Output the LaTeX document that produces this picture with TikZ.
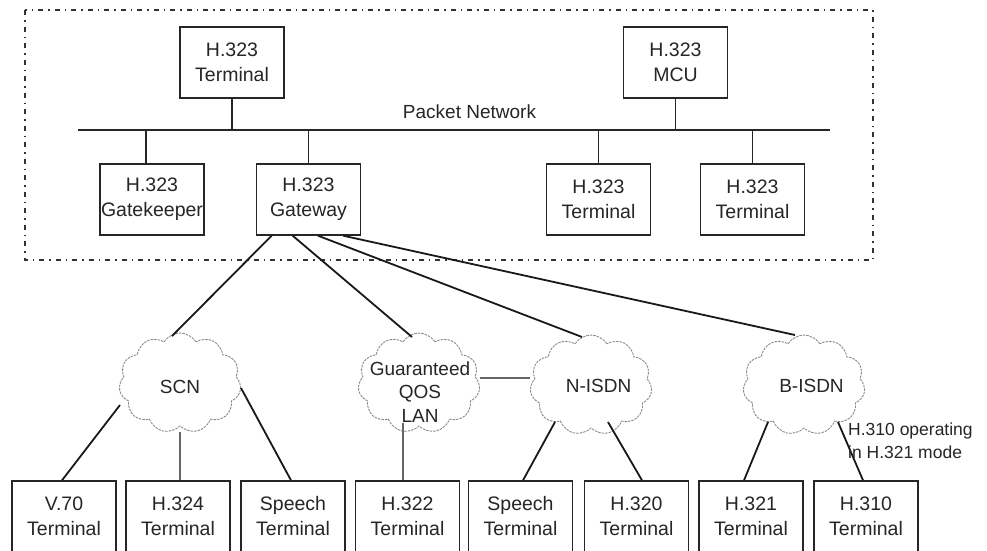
\documentclass[tikz,border=0pt]{standalone}
\usepackage{fontspec}
\setmainfont{Liberation Sans}
\usetikzlibrary{shapes.symbols,calc}
\begin{document}
\begin{tikzpicture}[x=1pt,y=-1pt,
  boxnode/.style={draw=black!85,line width=1.4pt,rectangle,minimum width=104pt,minimum height=71pt,inner sep=0pt,align=center,font=\fontsize{19.5}{25}\selectfont,text=black!85},
  netcloud/.style={draw=black!45,line width=0.9pt,dash pattern=on 2.5pt off 1pt,cloud,cloud puffs=11,cloud puff arc=115,cloud ignores aspect,minimum width=122pt,minimum height=100pt,inner sep=0pt},
  cloudtext/.style={align=center,inner sep=0pt,font=\fontsize{19}{23.5}\selectfont,text=black!85},
  link/.style={draw=black!90,line width=1.8pt},
  greylink/.style={draw=black!60,line width=1.5pt},
  bus/.style={draw=black!85,line width=1.4pt},
  frame/.style={draw=black!80,line width=1.5pt,dash pattern=on 5pt off 5pt on 1.5pt off 5pt}
]
\useasboundingbox (0,0) rectangle (987,550);
\fill[white] (0,0) rectangle (987,550);
% frame
\draw[frame] (25,10) rectangle (873,260);
% bus
\coordinate (busL) at (78,130);
\coordinate (busR) at (830,130);
\draw[bus] (busL) -- (busR);
\node[anchor=base,inner sep=0pt,font=\fontsize{19}{23}\selectfont,text=black!85] (pn) at (469.5,118) {Packet Network};
% top boxes
\node[boxnode] (t1) at (232,62.5) {H.323\\Terminal};
\node[boxnode] (mcu) at (675.5,62.5) {H.323\\MCU};
\node[boxnode] (gk) at (152,199.5) {H.323\\Gatekeeper};
\node[boxnode] (gw) at (308.5,199.5) {H.323\\Gateway};
\node[boxnode] (t3) at (598.5,199.5) {H.323\\Terminal};
\node[boxnode] (t4) at (752.5,199.5) {H.323\\Terminal};
% bus drops
\draw[bus] (t1.south) -- (t1.south |- busL);
\draw[bus] (mcu.south) -- (mcu.south |- busL);
\draw[bus] ($(gk.north)+(-6,0)$) -- ($(gk.north |- busL)+(-6,0)$);
\draw[bus] (gw.north) -- (gw.north |- busL);
\draw[bus] (t3.north) -- (t3.north |- busL);
\draw[bus] (t4.north) -- (t4.north |- busL);
% clouds
\node[netcloud] (scn) at (180,383) {};
\node[netcloud] (qos) at (419,383) {};
\node[netcloud] (nisdn) at (591,385) {};
\node[netcloud] (bisdn) at (804,385) {};
\node[cloudtext] (scnl) at (180,387) {SCN};
\node[cloudtext] (qosl) at (420,392) {Guaranteed\\QOS\\LAN};
\node[cloudtext] (nisdnl) at (598.5,386) {N-ISDN};
\node[cloudtext] (bisdnl) at (811.5,386) {B-ISDN};
% bottom boxes
\node[boxnode] (v70) at (64,516.5) {V.70\\Terminal};
\node[boxnode] (h324) at (178,516.5) {H.324\\Terminal};
\node[boxnode] (sp1) at (293,516.5) {Speech\\Terminal};
\node[boxnode] (h322) at (407.5,516.5) {H.322\\Terminal};
\node[boxnode] (sp2) at (520.5,516.5) {Speech\\Terminal};
\node[boxnode] (h320) at (636.5,516.5) {H.320\\Terminal};
\node[boxnode] (h321) at (751,516.5) {H.321\\Terminal};
\node[boxnode] (h310) at (866,516.5) {H.310\\Terminal};
% gateway links
\draw[link] ($(gw.south west)!0.15!(gw.south east)$) -- ($(scn)+(-8,-47)$);
\draw[link] ($(gw.south west)!0.35!(gw.south east)$) -- ($(qos)+(-7,-46)$);
\draw[link] ($(gw.south west)!0.59!(gw.south east)$) -- ($(nisdn)+(-9,-48)$);
\draw[link] ($(gw.south west)!0.83!(gw.south east)$) -- ($(bisdn)+(-9,-50)$);
% SCN links
\draw[link] ($(scn)+(-60,22)$) -- ($(v70.north)+(-2,0)$);
\draw[greylink] ($(scn)+(0,49)$) -- ($(h324.north)+(2,0)$);
\draw[link] ($(scn)+(61,5)$) -- ($(sp1.north)+(-2,0)$);
% QOS links
\draw[greylink] ($(qos)+(-16,40)$) -- ($(h322.north)+(-4.5,0)$);
\draw[greylink] ($(qos)+(61,-5)$) -- ($(nisdn)+(-61,-7)$);
% N-ISDN links
\draw[link] ($(nisdn)+(-36,37)$) -- ($(sp2.north)+(2.5,0)$);
\draw[link] ($(nisdn)+(17,37)$) -- ($(h320.north)+(5.5,0)$);
% B-ISDN links
\draw[link] ($(bisdn)+(-36,37)$) -- ($(h321.north)+(-7,0)$);
\draw[link] ($(bisdn)+(34,37)$) -- ($(h310.north)+(-3,0)$);
\node[anchor=west,align=left,inner sep=0pt,font=\fontsize{17.5}{23}\selectfont,text=black!85] (mode) at (848,441) {H.310 operating\\in H.321 mode};
\end{tikzpicture}
\end{document}
